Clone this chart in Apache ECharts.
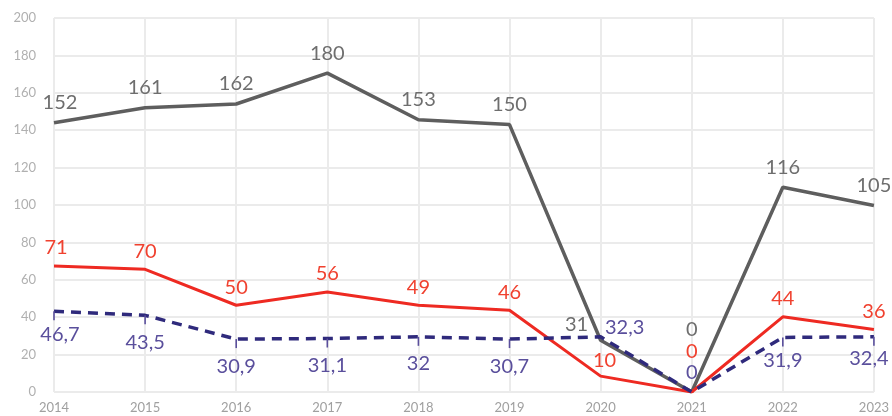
<!DOCTYPE html>
<html><head><meta charset="utf-8">
<script src="https://cdn.jsdelivr.net/npm/echarts@6/dist/echarts.min.js"></script>
<style>html,body{margin:0;padding:0;background:#fff}#c{width:892px;height:416px}</style>
</head><body><div id="c"></div>
<script>
var years = ['2014','2015','2016','2017','2018','2019','2020','2021','2022','2023'];
var yTicks = [0,20,40,60,80,100,120,140,160,180,200];
// plotted positions
var grayValues   = [144, 152, 154, 170.5, 145.6, 143, 27.7, 0, 109.5, 99.7];
var redValues    = [67.4, 65.6, 46.4, 53.5, 46.4, 43.7, 8.5, 0, 40.2, 33.4];
var purpleValues = [43.2, 41, 28.3, 28.6, 29.5, 28.3, 29.5, 0, 29.2, 29.5];
// printed value labels
var grayLabels   = ['152','161','162','180','153','150','31','0','116','105'];
var redLabels    = ['71','70','50','56','49','46','10','0','44','36'];
var purpleLabels = ['46,7','43,5','30,9','31,1','32','30,7','32,3','0','31,9','32,4'];

var FONT = 'Lato, "Noto Sans", sans-serif';
var grayLabelOverrides = {0:{offset:[6,0]}, 6:{offset:[-24,4]}, 7:{offset:[0,-42]}};
var redLabelOverrides = {0:{offset:[2,0]}, 6:{offset:[4,2]}, 7:{offset:[0,-22]}};
var purpleLabelOverrides = {0:{offset:[6,-4]}, 6:{offset:[24,-32]}, 7:{offset:[0,-42]}, 8:{offset:[0,-4]}, 9:{offset:[-5,-5]}};

function build(values, labels, overrides, extra){
  return values.map(function(v,i){
    var d = {value: v, label: {formatter: labels[i]}};
    if (overrides[i]) Object.assign(d.label, overrides[i]);
    if (extra && extra[i]) Object.assign(d, extra[i]);
    return d;
  });
}
var purpleNoTick = {7:{symbolSize:0.01}, 6:{symbolSize:0.01}};

var chart = echarts.init(document.getElementById('c'), null, {renderer:'canvas'});
chart.setOption({
  animation:false,
  grid:{left:54, right:16, top:18, bottom:24, containLabel:false},
  xAxis:{type:'category', data:years, boundaryGap:false,
    axisLine:{show:false}, axisTick:{show:false},
    axisLabel:{color:'#a0a0a0', fontSize:13, fontFamily:FONT, margin:9},
    splitLine:{show:true, lineStyle:{color:'#ebebeb', width:2}}},
  yAxis:{type:'value', min:0, max:200, interval:20,
    axisLine:{show:false}, axisTick:{show:false},
    axisLabel:{color:'#b0b0b0', fontSize:13, fontFamily:FONT, margin:18,
      formatter:function(v){return yTicks.indexOf(v)>=0? String(v):'';}},
    splitLine:{show:true, lineStyle:{color:'#ebebeb', width:2}}},
  series:[
    {type:'line', name:'gray', data:build(grayValues, grayLabels, grayLabelOverrides),
     symbol:'circle', symbolSize:0.01, showAllSymbol:true, itemStyle:{color:'#5e5e5e'},
     lineStyle:{color:'#5e5e5e', width:3.5}, z:3,
     label:{show:true, position:'top', distance:10, color:'#6e6e6e', fontSize:20, fontFamily:FONT}},
    {type:'line', name:'red', data:build(redValues, redLabels, redLabelOverrides),
     symbol:'circle', symbolSize:0.01, showAllSymbol:true, itemStyle:{color:'#ee2a22'},
     lineStyle:{color:'#ee2a22', width:3}, z:4,
     label:{show:true, position:'top', distance:8, color:'#f0412f', fontSize:20, fontFamily:FONT}},
    {type:'line', name:'purple', data:build(purpleValues, purpleLabels, purpleLabelOverrides, purpleNoTick),
     symbol:'path://M0,0h1v10h-1z', symbolSize:[1.6,9], symbolOffset:[0,4.5], showAllSymbol:true,
     itemStyle:{color:'#5a4f9c'},
     lineStyle:{color:'#2f2a7c', width:3.5, type:[10,7]}, z:5,
     label:{show:true, position:'bottom', distance:8, color:'#5a4f9c', fontSize:20, fontFamily:FONT}}
  ]
});
</script></body></html>
